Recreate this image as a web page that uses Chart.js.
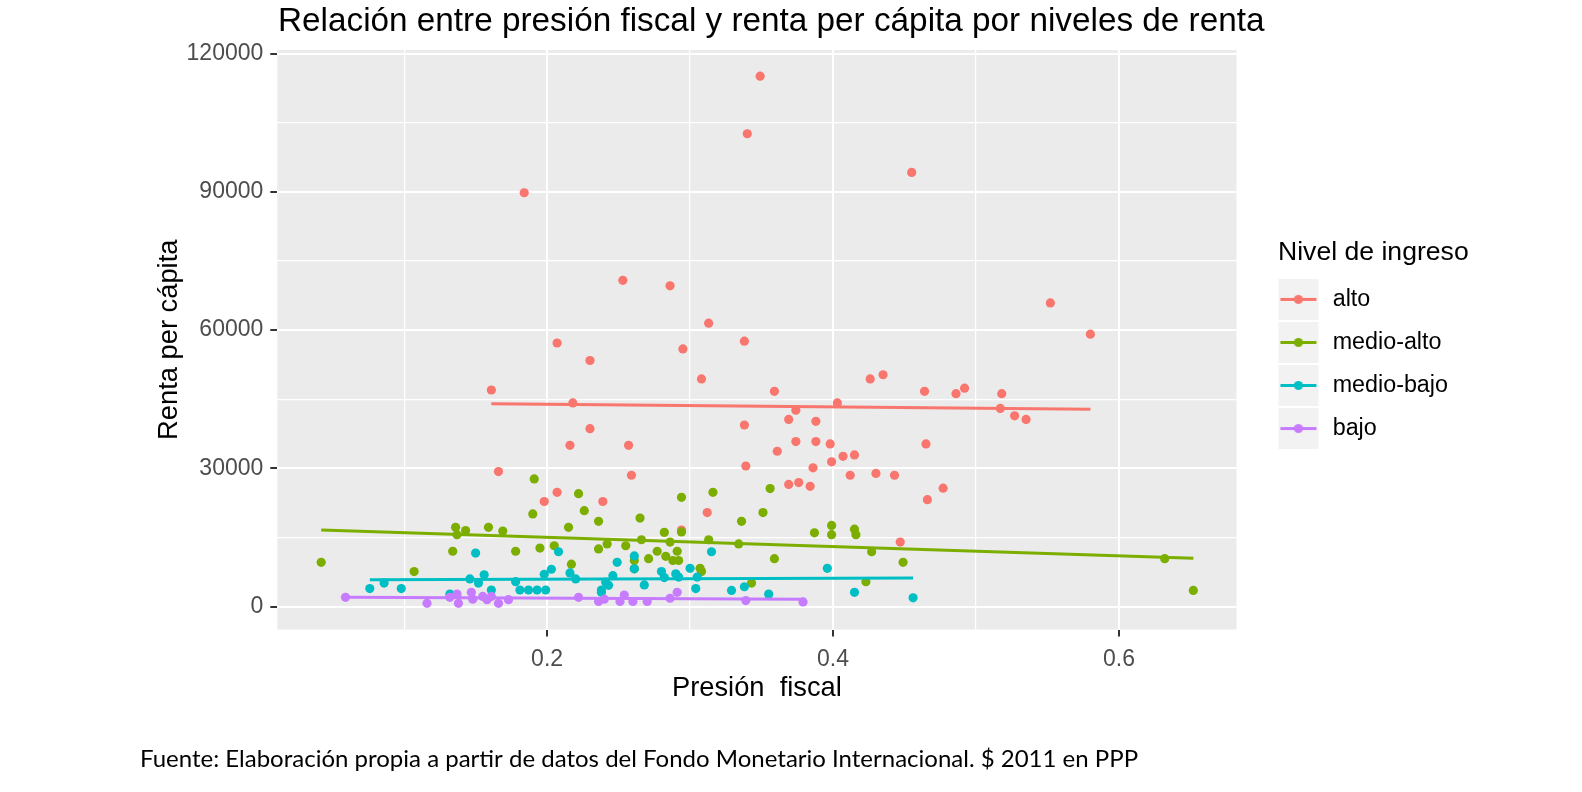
<!DOCTYPE html>
<html>
<head>
<meta charset="utf-8">
<script src="https://cdn.jsdelivr.net/npm/chart.js@4.4.1/dist/chart.umd.min.js"></script>
<style>
html, body { margin: 0; padding: 0; background: #ffffff; }
#wrap { width: 1582px; height: 792px; position: relative; }
#titulo {
    position: absolute; left: 278px; top: 0; height: 40px; line-height: 40px;
    font-family: 'Liberation Sans', Arial, sans-serif; font-size: 33.3px;
    color: #000000; white-space: nowrap;
}
</style>
</head>
<body>
<div id="wrap">
    <canvas id="grafico"></canvas>
    <div id="titulo">Relación entre presión fiscal y renta per cápita por niveles de renta</div>
</div>
<script>
// niveles de ingreso y colores
var niveles = ['alto', 'medio-alto', 'medio-bajo', 'bajo'];
var colores = ['#F8766D', '#7CAE00', '#00BFC4', '#C77CFF'];

// [presión fiscal, renta per cápita]
var alto = [
    [0.184, 89800], [0.340, 102600], [0.253, 70800], [0.286, 69600], [0.313, 61500],
    [0.207, 57200], [0.338, 57600], [0.349, 115100], [0.455, 94200], [0.552, 65900],
    [0.580, 59100], [0.230, 53400], [0.295, 55900], [0.308, 49400], [0.161, 47000],
    [0.218, 44200], [0.338, 39400], [0.230, 38600], [0.216, 35000], [0.257, 35000],
    [0.259, 28500], [0.166, 29300], [0.339, 30500], [0.207, 24800], [0.198, 22800],
    [0.239, 22800], [0.312, 20400], [0.294, 16600], [0.359, 46700], [0.426, 49400],
    [0.435, 50300], [0.464, 46700], [0.486, 46200], [0.492, 47400], [0.518, 46200],
    [0.517, 43000], [0.527, 41400], [0.535, 40600], [0.403, 44200], [0.374, 42600],
    [0.369, 40600], [0.388, 40200], [0.361, 33700], [0.374, 35800], [0.388, 35800],
    [0.398, 35300], [0.465, 35300], [0.399, 31400], [0.407, 32600], [0.415, 32900],
    [0.386, 30100], [0.412, 28500], [0.430, 28900], [0.443, 28500], [0.369, 26500],
    [0.376, 26900], [0.384, 26100], [0.477, 25700], [0.466, 23200], [0.447, 14000]
];
var medioAlto = [
    [0.191, 27700], [0.222, 24500], [0.316, 24800], [0.294, 23700], [0.226, 20800],
    [0.190, 20100], [0.265, 19200], [0.336, 18500], [0.236, 18500], [0.136, 17200],
    [0.143, 16500], [0.159, 17200], [0.169, 16400], [0.137, 15600], [0.215, 17200],
    [0.282, 16100], [0.294, 16200], [0.286, 14000], [0.266, 14500], [0.313, 14500],
    [0.334, 13600], [0.242, 13600], [0.205, 13200], [0.195, 12700], [0.255, 13200],
    [0.134, 12000], [0.178, 12000], [0.236, 12500], [0.277, 12000], [0.291, 12000],
    [0.042, 9600], [0.271, 10400], [0.283, 10900], [0.288, 10000], [0.292, 10000],
    [0.261, 10000], [0.217, 9200], [0.107, 7600], [0.261, 8200], [0.307, 8300],
    [0.308, 7600], [0.343, 5100], [0.356, 25600], [0.351, 20400], [0.387, 16000],
    [0.399, 17600], [0.399, 15600], [0.415, 16800], [0.416, 15600], [0.427, 11900],
    [0.359, 10400], [0.449, 9600], [0.423, 5400], [0.632, 10400], [0.652, 3500]
];
var medioBajo = [
    [0.150, 11600], [0.208, 11900], [0.315, 11900], [0.261, 11000], [0.261, 8200],
    [0.249, 9600], [0.203, 8100], [0.198, 7000], [0.216, 7300], [0.220, 6000],
    [0.156, 6900], [0.146, 6000], [0.152, 5100], [0.178, 5400], [0.246, 6700],
    [0.241, 5300], [0.243, 4600], [0.238, 3600], [0.280, 7600], [0.282, 6300],
    [0.290, 7100], [0.292, 6400], [0.300, 8300], [0.305, 6400], [0.268, 4700],
    [0.304, 3900], [0.329, 3500], [0.338, 4300], [0.076, 3900], [0.086, 5100],
    [0.098, 3900], [0.132, 2700], [0.181, 3600], [0.187, 3600], [0.193, 3600],
    [0.199, 3600], [0.161, 3600], [0.238, 3100], [0.396, 8300], [0.355, 2700],
    [0.415, 3100], [0.456, 1900]
];
var bajo = [
    [0.059, 2000], [0.116, 700], [0.132, 2000], [0.138, 700], [0.137, 2700],
    [0.147, 3100], [0.148, 1600], [0.155, 2200], [0.158, 1500], [0.161, 2200],
    [0.166, 700], [0.173, 1500], [0.222, 2000], [0.236, 1100], [0.240, 1600],
    [0.251, 1100], [0.254, 2500], [0.260, 1100], [0.270, 1100], [0.286, 1800],
    [0.291, 3100], [0.339, 1300], [0.379, 1000]
];

// rectas de regresión (extremos)
var rectaAlto = [[0.161, 44000], [0.580, 42800]];
var rectaMedioAlto = [[0.042, 16600], [0.652, 10500]];
var rectaMedioBajo = [[0.076, 5800], [0.456, 6200]];
var rectaBajo = [[0.059, 2000], [0.379, 1600]];

// líneas de la rejilla y etiquetas de los ejes
var lineasX = [0.1, 0.2, 0.3, 0.4, 0.5, 0.6];
var ticksX = [0.2, 0.4, 0.6];
var lineasY = [0, 15000, 30000, 45000, 60000, 75000, 90000, 105000, 120000];
var ticksY = [0, 30000, 60000, 90000, 120000];

var fuente = "'Liberation Sans', Arial, sans-serif";
Chart.defaults.font.family = fuente;
Chart.defaults.color = '#000000';

function esMayor(v, lista) {
    for (var i = 0; i < lista.length; i++) {
        if (Math.abs(lista[i] - v) < 1e-9) return true;
    }
    return false;
}

function aPuntos(serie) {
    return serie.map(function (p) { return {x: p[0], y: p[1]}; });
}

// clave de la leyenda: fondo gris, línea y punto
function claveLeyenda(color) {
    var c = document.createElement('canvas');
    c.width = 64;
    c.height = 41;
    var g = c.getContext('2d');
    g.fillStyle = '#F2F2F2';
    g.fillRect(1, 0, 40, 41);
    g.strokeStyle = color;
    g.lineWidth = 3;
    g.beginPath();
    g.moveTo(3, 20.5);
    g.lineTo(39, 20.5);
    g.stroke();
    g.fillStyle = color;
    g.beginPath();
    g.arc(21, 20.5, 4.6, 0, Math.PI * 2);
    g.fill();
    return c;
}
var claves = colores.map(claveLeyenda);

var series = [alto, medioAlto, medioBajo, bajo];
var rectas = [rectaAlto, rectaMedioAlto, rectaMedioBajo, rectaBajo];
var datasets = [];

series.forEach(function (serie, i) {
    datasets.push({
        type: 'scatter',
        label: niveles[i],
        data: aPuntos(serie),
        backgroundColor: colores[i],
        borderWidth: 0,
        pointRadius: 4.6,
        pointHoverRadius: 4.6,
        xAxisID: 'x',
        yAxisID: 'y',
        order: 5 - i
    });
});

rectas.forEach(function (recta, i) {
    datasets.push({
        type: 'line',
        label: niveles[i] + ' (recta)',
        data: aPuntos(recta),
        borderColor: colores[i],
        borderWidth: 3,
        pointRadius: 0,
        fill: false,
        xAxisID: 'x',
        yAxisID: 'y',
        order: 0
    });
});

/* --------------------- Fondo del panel y ancho de la leyenda --------------------- */

var fondoPanel = {
    id: 'fondoPanel',
    beforeLayout: function (chart) {
        var leg = chart.legend;
        if (leg && !leg._anchoFijo) {
            var fitOriginal = leg.fit;
            leg.fit = function () {
                fitOriginal.call(this);
                this.width = 205;
            };
            leg._anchoFijo = true;
        }
    },
    beforeDraw: function (chart) {
        var a = chart.chartArea;
        var ctx = chart.ctx;
        ctx.save();
        ctx.fillStyle = '#EBEBEB';
        ctx.fillRect(a.left, a.top, a.right - a.left, a.bottom - a.top);
        ctx.restore();
    }
};

function rejilla(lineas, ticks) {
    return {
        color: '#FFFFFF',
        lineWidth: function (c) { return c.tick && esMayor(c.tick.value, ticks) ? 2 : 1.2; },
        tickLength: 7,
        tickWidth: 2,
        tickColor: function (c) { return c.tick && esMayor(c.tick.value, ticks) ? '#333333' : 'rgba(0,0,0,0)'; }
    };
}

var ctx = document.getElementById('grafico').getContext('2d');
var chart = new Chart(ctx, {
    type: 'scatter',
    data: {datasets: datasets},
    plugins: [fondoPanel],
    options: {
        responsive: true,
        maintainAspectRatio: false,
        animation: false,
        devicePixelRatio: 1,
        layout: {padding: {left: 140, right: 99, top: 50, bottom: 0}},
        plugins: {
            tooltip: {enabled: false},
            title: {display: false},
            subtitle: {
                display: true,
                position: 'bottom',
                align: 'start',
                fullSize: true,
                text: 'Fuente: Elaboración propia a partir de datos del Fondo Monetario Internacional. $ 2011 en PPP',
                color: '#000000',
                font: {family: 'Lato', size: 24},
                padding: {top: 40.1, bottom: 18.6}
            },
            legend: {
                display: true,
                position: 'right',
                align: 'start',
                title: {
                    display: true,
                    text: 'Nivel de ingreso',
                    position: 'start',
                    color: '#000000',
                    font: {size: 26.6, lineHeight: 1},
                    padding: {top: 188.9, bottom: 2.5}
                },
                labels: {
                    usePointStyle: true,
                    pointStyleWidth: 23.3,
                    padding: 19.75,
                    color: '#000000',
                    font: {size: 23.3},
                    generateLabels: function () {
                        return niveles.map(function (n, i) {
                            return {
                                text: n,
                                pointStyle: claves[i],
                                fillStyle: colores[i],
                                strokeStyle: colores[i],
                                lineWidth: 0,
                                hidden: false,
                                datasetIndex: i
                            };
                        });
                    }
                }
            }
        },
        scales: {
            x: {
                type: 'linear',
                position: 'bottom',
                min: 0.0113,
                max: 0.6822,
                afterBuildTicks: function (s) {
                    s.ticks = lineasX.map(function (v) { return {value: v}; });
                },
                afterFit: function (s) { s.height = 75; },
                border: {display: false},
                grid: rejilla(lineasX, ticksX),
                ticks: {
                    autoSkip: false,
                    maxRotation: 0,
                    padding: 9.5,
                    color: '#4D4D4D',
                    font: {size: 23},
                    callback: function (v) { return esMayor(v, ticksX) ? String(v) : ''; }
                },
                title: {
                    display: true,
                    text: 'Presión  fiscal',
                    color: '#000000',
                    font: {size: 27.3},
                    padding: {top: 0, bottom: 0}
                }
            },
            y: {
                type: 'linear',
                position: 'left',
                min: -4976,
                max: 120776,
                afterBuildTicks: function (s) {
                    s.ticks = lineasY.map(function (v) { return {value: v}; });
                },
                afterFit: function (s) { s.width = 137.3; },
                border: {display: false},
                grid: rejilla(lineasY, ticksY),
                ticks: {
                    autoSkip: false,
                    padding: 7,
                    color: '#4D4D4D',
                    font: {size: 23},
                    callback: function (v) { return esMayor(v, ticksY) ? String(v) : ''; }
                },
                title: {
                    display: true,
                    text: 'Renta per cápita',
                    color: '#000000',
                    font: {size: 27.3},
                    padding: {top: 12.6, bottom: 0}
                }
            },
            // hueco entre el panel y la leyenda
            hueco: {
                type: 'linear',
                position: 'right',
                display: true,
                grid: {display: false},
                border: {display: false},
                ticks: {display: false},
                afterFit: function (s) { s.width = 41.5; }
            }
        }
    }
});
</script>
</body>
</html>
